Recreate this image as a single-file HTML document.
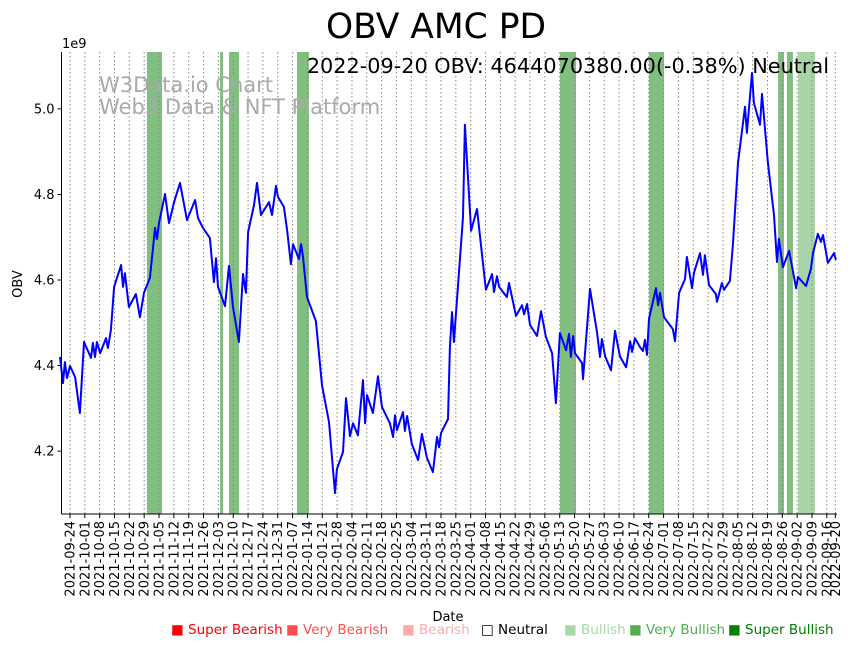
<!DOCTYPE html>
<html><head><meta charset="utf-8"><style>
body{margin:0;background:#fff;}
svg{display:block;font-family:"DejaVu Sans","Liberation Sans",sans-serif;}
</style></head><body>
<svg id="chart" width="855" height="646" viewBox="0 0 855 646" xmlns="http://www.w3.org/2000/svg">
<text x="436" y="38" font-size="34.5" text-anchor="middle">OBV AMC PD</text>
<g id="bands"></g>
<g id="grid"></g>
<text x="99" y="92" font-size="21" fill="#aaaaaa">W3Data.io Chart</text>
<text x="99" y="114" font-size="21" fill="#aaaaaa">Web3 Data &amp; NFT Platform</text>
<polyline id="line" fill="none" stroke="#0000ff" stroke-width="2" stroke-linejoin="round"/>
<g id="xaxis"></g>
<g id="yaxis"></g>
<text x="62" y="48" font-size="13">1e9</text>
<text x="829" y="73" font-size="20.8" text-anchor="end">2022-09-20 OBV: 4644070380.00(-0.38%) Neutral</text>
<text transform="translate(22,284) rotate(-90)" font-size="13" text-anchor="middle">OBV</text>
<text x="448" y="621" font-size="13" text-anchor="middle">Date</text>
<g font-size="13.5">
<text x="171" y="634" fill="#ff0000">■ Super Bearish</text>
<text x="286" y="634" fill="#ff5050">■ Very Bearish</text>
<text x="402" y="634" fill="#ffaaaa">■ Bearish</text>
<text x="481" y="634" fill="#000">□ Neutral</text>
<text x="564" y="634" fill="#a8d8a8">■ Bullish</text>
<text x="629" y="634" fill="#50b050">■ Very Bullish</text>
<text x="728" y="634" fill="#008000">■ Super Bullish</text>
</g>
</svg>
<script>
// days since 2021-09-24
const days=[-4.7,-3.3,-2.4,-1.4,0,2.4,4.7,6.6,9.9,10.8,11.8,12.7,14.2,17.0,17.9,19.3,20.8,24.1,25.0,25.9,27.8,31.1,33.0,34.9,37.7,39.2,40.1,41.0,42.0,44.8,46.7,49.1,51.9,55.2,59.0,60.4,62.7,66.0,67.9,68.9,69.8,73.1,75.0,76.9,79.7,81.6,83.0,84.0,86.8,88.2,90.1,93.9,95.3,97.2,98.1,100.9,102.4,104.2,105.2,108.0,109.0,109.9,111.8,116.0,118.9,122.2,125.0,125.9,128.8,130.2,132.1,133.5,135.8,138.2,139.2,140.1,142.9,145.3,147.2,150.9,152.4,153.3,154.2,157.1,158.0,159.0,161.3,164.2,166.0,168.4,171.2,173.1,174.1,175.0,178.3,179.2,180.2,181.1,185.4,186.3,189.2,192.0,196.2,199.1,200.0,201.4,202.4,206.1,207.1,210.4,213.2,214.2,215.6,217.0,220.3,222.2,224.5,227.4,229.2,231.1,234.0,235.4,236.3,237.3,238.2,241.5,242.0,245.3,248.6,250.0,250.9,252.4,255.2,257.1,259.4,262.3,264.2,265.1,266.5,268.9,270.3,271.2,272.2,273.1,276.4,277.4,278.3,280.2,284.4,285.4,287.3,290.1,291.0,293.4,294.3,297.2,298.6,299.5,301.4,304.7,305.2,307.5,308.5,311.3,312.7,315.1,318.4,319.3,321.7,322.6,325.5,326.4,329.2,332.1,333.5,334.4,336.3,339.2,342.5,343.4,347.2,349.5,350.5,352.8,354.2,355.2,357.5,360.4,361.3];
const obv=[4.420,4.359,4.408,4.371,4.399,4.373,4.289,4.455,4.418,4.453,4.420,4.455,4.429,4.464,4.441,4.483,4.584,4.635,4.584,4.616,4.537,4.567,4.513,4.570,4.605,4.677,4.722,4.696,4.733,4.801,4.733,4.782,4.827,4.740,4.787,4.745,4.722,4.698,4.595,4.651,4.584,4.539,4.633,4.537,4.455,4.614,4.570,4.712,4.775,4.827,4.752,4.782,4.752,4.820,4.794,4.771,4.717,4.637,4.684,4.649,4.684,4.654,4.560,4.504,4.354,4.268,4.102,4.158,4.198,4.324,4.235,4.265,4.237,4.366,4.265,4.331,4.289,4.375,4.303,4.265,4.233,4.284,4.249,4.291,4.247,4.282,4.216,4.179,4.240,4.184,4.151,4.233,4.209,4.242,4.275,4.443,4.525,4.455,4.747,4.963,4.715,4.766,4.577,4.614,4.572,4.609,4.584,4.560,4.593,4.516,4.541,4.520,4.544,4.495,4.469,4.527,4.467,4.429,4.312,4.476,4.436,4.474,4.420,4.469,4.429,4.406,4.368,4.579,4.478,4.420,4.462,4.422,4.389,4.481,4.422,4.396,4.457,4.432,4.464,4.443,4.434,4.460,4.425,4.509,4.581,4.541,4.570,4.513,4.485,4.457,4.570,4.602,4.654,4.581,4.616,4.663,4.612,4.658,4.588,4.567,4.549,4.593,4.577,4.598,4.682,4.874,5.005,4.944,5.084,5.014,4.963,5.035,4.874,4.752,4.642,4.696,4.630,4.668,4.581,4.607,4.586,4.626,4.663,4.708,4.689,4.705,4.640,4.663,4.647];
const bandStart=[36.3,70.8,75.0,107.1,231.1,273.1,334.0,338.2,343.4];
const bandEnd=[43.4,72.2,79.7,112.7,238.7,280.2,336.8,341.0,351.4];
const bandType=["very","very","very","very","very","very","very","very","bullish"];
const yTicks=[4.2,4.4,4.6,4.8,5.0];
const tickDays=[];for(let d=0;d<=357;d+=7)tickDays.push(d);tickDays.push(361);

const X0=61.5,X1=837,Y0=514,Y1=52,D0=-4,D1=361.8,V0=4.053,V1=5.133;
const x=d=>X0+(d-D0)/(D1-D0)*(X1-X0);
const y=v=>Y0-(v-V0)/(V1-V0)*(Y0-Y1);
const NS="http://www.w3.org/2000/svg";
function mk(t,a,p){const e=document.createElementNS(NS,t);for(const k in a)e.setAttribute(k,a[k]);p.appendChild(e);return e;}
const bands=document.getElementById('bands');
bandStart.forEach((s,i)=>{const r=mk('rect',{x:x(s),y:Y1,width:x(bandEnd[i])-x(s),height:Y0-Y1,fill:bandType[i]==="bullish"?"#a8d4a8":"#80bf80"},bands);

});
const grid=document.getElementById('grid'),xa=document.getElementById('xaxis'),ya=document.getElementById('yaxis');
const base=new Date(Date.UTC(2021,8,24));
tickDays.forEach(d=>{const px=x(d);
const g=mk('line',{x1:px,x2:px,y1:Y1,y2:Y0,stroke:"#888",'stroke-width':1,'stroke-dasharray':"1.5,2.5"},grid);


mk('line',{x1:px,x2:px,y1:Y0,y2:Y0+4,stroke:"#000"},xa);
const dt=new Date(base.getTime()+d*86400000);const s=dt.toISOString().slice(0,10);
const t=mk('text',{transform:`translate(${px+4.5},${Y0+7}) rotate(-90)`,'font-size':13,'text-anchor':'end'},xa);t.textContent=s;

});
yTicks.forEach(v=>{const py=y(v);mk('line',{x1:X0-4,x2:X0,y1:py,y2:py,stroke:"#000"},ya);
const t=mk('text',{x:X0-7,y:py+4.5,'font-size':13,'text-anchor':'end'},ya);t.textContent=v.toFixed(1);

});
mk('line',{x1:X0,x2:X0,y1:Y1,y2:Y0,stroke:"#000"},ya);
mk('line',{x1:X0,x2:X1,y1:Y0,y2:Y0,stroke:"#000"},xa);
document.getElementById('line').setAttribute('points',days.map((d,i)=>x(d).toFixed(1)+","+y(obv[i]).toFixed(1)).join(" "));
</script>
</body></html>
